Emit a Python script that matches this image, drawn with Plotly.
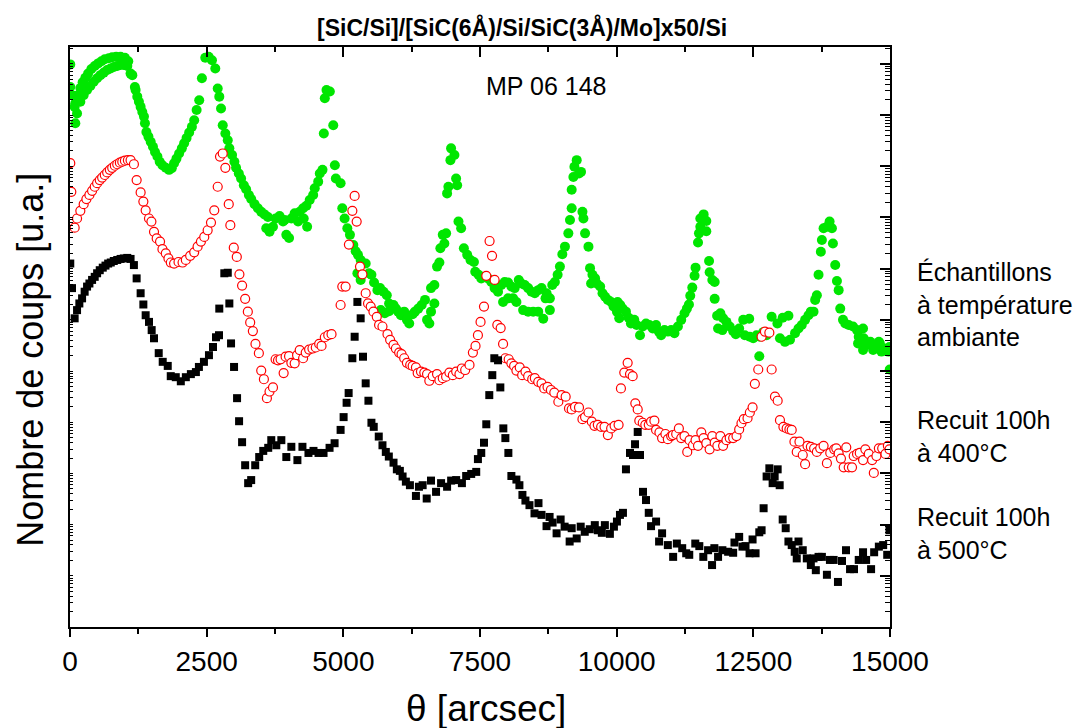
import plotly.graph_objects as go

# ---------------- data (theta in arcsec, log10 of counts, arbitrary units) ----------------
black_theta = [5, 37, 85, 129, 171, 221, 268, 312, 355, 404, 452, 496, 544, 599, 649, 698, 746, 801, 864, 925,
               985, 1048, 1108, 1169, 1219, 1292, 1342, 1384, 1445, 1494, 1537, 1623, 1696, 1788, 1843, 1935, 2027,
               2119, 2211, 2303, 2358, 2450, 2542, 2616, 2671, 2726, 2731, 2823, 2886, 2915, 2946, 3001, 3056, 3093,
               3148, 3204, 3259, 3314, 3388, 3461, 3535, 3626, 3682, 3774, 3866, 3957, 4049, 4160, 4252, 4362, 4454,
               4546, 4638, 4748, 4840, 4950, 5005, 5060, 5097, 5165, 5207, 5257, 5317, 5360, 5409, 5459, 5514, 5556,
               5648, 5716, 5777, 5832, 5918, 5979, 6034, 6084, 6144, 6218, 6328, 6383, 6451, 6525, 6604, 6696, 6788,
               6898, 6972, 7064, 7169, 7247, 7339, 7431, 7462, 7523, 7573, 7615, 7670, 7725, 7762, 7830, 7872, 7927,
               7964, 8019, 8074, 8166, 8221, 8276, 8331, 8405, 8497, 8570, 8625, 8717, 8773, 8828, 8901, 8975, 9048,
               9140, 9177, 9269, 9342, 9416, 9508, 9600, 9655, 9729, 9784, 9876, 9950, 10005, 10060, 10115, 10170,
               10244, 10299, 10336, 10385, 10427, 10482, 10537, 10587, 10629, 10721, 10776, 10831, 10936, 11033,
               11101, 11199, 11272, 11328, 11438, 11512, 11585, 11672, 11745, 11787, 11855, 11934, 12039, 12131,
               12155, 12241, 12302, 12357, 12431, 12486, 12541, 12609, 12651, 12688, 12743, 12793, 12853, 12890,
               12945, 12982, 13037, 13092, 13142, 13202, 13257, 13294, 13326, 13404, 13478, 13552, 13601, 13643,
               13693, 13754, 13846, 13901, 13969, 14048, 14122, 14195, 14269, 14342, 14428, 14507, 14563, 14654,
               14710, 14796, 14875, 14949, 14990]
black_log = [7.10, 6.62, 6.03, 6.19, 6.32, 6.42, 6.55, 6.65, 6.71, 6.78, 6.84, 6.91, 6.97, 7.02, 7.06, 7.10, 7.12,
             7.15, 7.17, 7.19, 7.20, 7.21, 7.19, 7.07, 6.81, 6.52, 6.30, 6.09, 5.96, 5.80, 5.64, 5.35, 5.18, 5.10,
             4.90, 4.88, 4.80, 4.88, 4.94, 4.98, 5.08, 5.18, 5.31, 5.47, 5.66, 5.70, 6.22, 6.91, 6.92, 6.32, 5.54,
             5.08, 4.47, 4.02, 3.61, 3.16, 2.81, 2.87, 3.16, 3.32, 3.44, 3.50, 3.65, 3.55, 3.65, 3.32, 3.52, 3.26,
             3.52, 3.40, 3.44, 3.40, 3.40, 3.50, 3.59, 3.85, 4.10, 4.38, 4.57, 5.25, 5.67, 6.35, 6.03, 5.28, 4.76,
             4.42, 3.99, 3.91, 3.72, 3.55, 3.42, 3.33, 3.21, 3.08, 3.05, 2.94, 2.84, 2.77, 2.56, 2.74, 2.77, 2.51,
             2.86, 2.64, 2.81, 2.74, 2.86, 2.87, 2.81, 2.95, 2.99, 3.03, 3.28, 3.40, 3.60, 3.96, 4.53, 4.92, 5.25,
             5.21, 4.68, 3.88, 3.69, 3.40, 2.95, 2.88, 2.77, 2.58, 2.47, 2.38, 2.22, 2.42, 2.19, 1.97, 2.15, 2.04,
             1.83, 2.10, 1.96, 1.67, 1.93, 1.73, 1.96, 1.86, 1.91, 1.99, 1.89, 1.84, 1.99, 1.82, 1.96, 2.06, 2.19,
             2.23, 3.08, 3.40, 3.36, 3.57, 3.81, 3.36, 2.64, 2.48, 2.23, 1.97, 2.06, 1.67, 1.83, 1.60, 1.37, 1.63,
             1.54, 1.44, 1.41, 1.63, 1.58, 1.37, 1.50, 1.21, 1.54, 1.37, 1.50, 1.47, 1.45, 1.65, 1.76, 1.57, 1.58,
             1.44, 1.71, 1.44, 1.85, 1.89, 2.32, 2.94, 3.10, 2.81, 2.94, 3.08, 2.77, 2.10, 1.93, 1.67, 1.60, 1.47,
             1.34, 1.67, 1.50, 1.34, 1.21, 1.34, 1.11, 1.37, 1.37, 1.02, 1.31, 1.31, 0.88, 1.29, 1.50, 1.13, 1.13,
             1.31, 1.46, 1.31, 1.13, 1.46, 1.57, 1.60, 1.41, 1.89]

red_theta = [5, 24, 85, 129, 189, 250, 300, 355, 404, 452, 496, 544, 588, 636, 680, 728, 772, 820, 864, 912, 956,
             1004, 1059, 1108, 1169, 1219, 1292, 1342, 1384, 1445, 1489, 1537, 1586, 1647, 1691, 1752, 1801, 1844,
             1904, 1985, 2059, 2119, 2198, 2272, 2334, 2395, 2456, 2518, 2579, 2639, 2702, 2744, 2794, 2842, 2904,
             2933, 2996, 3051, 3099, 3148, 3204, 3253, 3296, 3345, 3393, 3455, 3498, 3547, 3602, 3650, 3713, 3761,
             3805, 3852, 3908, 3944, 4007, 4049, 4110, 4154, 4202, 4264, 4312, 4374, 4435, 4496, 4558, 4601, 4661,
             4724, 4784, 4950, 4981, 5042, 5102, 5165, 5207, 5244, 5305, 5349, 5409, 5452, 5501, 5551, 5612, 5654,
             5716, 5808, 5856, 5918, 5961, 6021, 6065, 6113, 6163, 6223, 6268, 6328, 6360, 6420, 6481, 6531, 6573,
             6635, 6714, 6757, 6819, 6880, 6940, 7003, 7064, 7124, 7168, 7229, 7308, 7370, 7418, 7462, 7510, 7573,
             7615, 7675, 7720, 7767, 7817, 7878, 7922, 7964, 8025, 8074, 8124, 8166, 8227, 8271, 8332, 8381, 8455,
             8503, 8565, 8626, 8675, 8736, 8797, 8859, 8933, 8993, 9067, 9128, 9177, 9238, 9311, 9374, 9422, 9484,
             9545, 9594, 9655, 9716, 9778, 9839, 9899, 9962, 10035, 10078, 10139, 10201, 10244, 10293, 10341, 10385,
             10414, 10477, 10524, 10587, 10629, 10690, 10721, 10782, 10831, 10892, 10936, 10997, 11028, 11089,
             11138, 11181, 11241, 11291, 11333, 11396, 11443, 11488, 11548, 11590, 11640, 11701, 11750, 11793,
             11842, 11897, 11947, 12008, 12068, 12131, 12192, 12241, 12283, 12326, 12394, 12436, 12486, 12528,
             12590, 12651, 12712, 12793, 12835, 12896, 12945, 12987, 13050, 13110, 13160, 13202, 13252, 13294,
             13344, 13404, 13447, 13491, 13552, 13612, 13662, 13723, 13785, 13846, 13907, 13980, 14017, 14061,
             14103, 14153, 14200, 14245, 14305, 14336, 14397, 14447, 14507, 14549, 14612, 14673, 14704, 14752,
             14796, 14857, 14917, 14961, 14990]
red_log = [9.06, 8.50, 7.80, 7.98, 8.13, 8.26, 8.36, 8.44, 8.52, 8.60, 8.67, 8.73, 8.78, 8.83, 8.88, 8.93, 8.97,
           9.01, 9.04, 9.07, 9.09, 9.11, 9.12, 9.12, 9.04, 8.73, 8.49, 8.31, 8.14, 7.98, 7.92, 7.72, 7.59, 7.53,
           7.38, 7.30, 7.20, 7.12, 7.10, 7.13, 7.12, 7.17, 7.25, 7.32, 7.43, 7.53, 7.62, 7.75, 7.90, 8.14, 8.60,
           9.19, 9.25, 8.97, 8.26, 7.85, 7.41, 7.23, 6.89, 6.67, 6.41, 6.16, 5.95, 5.78, 5.53, 5.35, 5.01, 4.84,
           4.47, 4.60, 4.68, 5.23, 5.21, 5.23, 4.96, 5.28, 5.29, 5.16, 5.15, 5.31, 5.41, 5.25, 5.36, 5.42, 5.44,
           5.46, 5.53, 5.49, 5.66, 5.70, 5.72, 6.29, 6.65, 6.65, 7.47, 8.13, 8.42, 7.92, 7.04, 6.89, 6.52, 6.32,
           6.26, 6.16, 6.06, 5.90, 5.87, 5.72, 5.61, 5.51, 5.44, 5.36, 5.33, 5.25, 5.16, 5.12, 5.10, 5.07, 4.96,
           4.99, 4.97, 4.94, 4.81, 4.90, 4.94, 4.82, 4.86, 4.89, 4.97, 4.92, 4.99, 4.94, 5.05, 5.02, 5.12, 5.36,
           5.49, 5.70, 5.96, 6.26, 6.86, 7.54, 7.25, 6.78, 5.90, 5.84, 5.53, 5.25, 5.23, 5.15, 5.10, 5.01, 5.07,
           4.92, 4.99, 4.90, 4.84, 4.86, 4.79, 4.76, 4.66, 4.69, 4.63, 4.58, 4.40, 4.53, 4.50, 4.27, 4.25, 4.30,
           4.29, 4.06, 4.10, 4.19, 4.01, 3.93, 3.95, 3.91, 3.91, 3.75, 3.88, 3.93, 3.95, 4.66, 4.97, 5.16, 4.94,
           4.90, 4.37, 4.25, 4.03, 3.99, 3.95, 3.95, 4.01, 4.03, 3.85, 3.80, 3.69, 3.77, 3.67, 3.73, 3.75, 3.77,
           3.88, 3.69, 3.73, 3.42, 3.65, 3.55, 3.65, 3.54, 3.80, 3.69, 3.59, 3.47, 3.73, 3.60, 3.54, 3.73, 3.54,
           3.65, 3.69, 3.69, 3.73, 3.86, 3.98, 4.06, 4.08, 4.19, 4.29, 4.75, 5.03, 5.67, 5.77, 5.75, 5.03, 4.50,
           4.42, 4.04, 3.91, 3.88, 3.86, 3.85, 3.62, 3.42, 3.62, 3.36, 3.18, 3.54, 3.52, 3.49, 3.42, 3.49, 3.54,
           3.20, 3.40, 3.47, 3.49, 3.39, 3.29, 3.12, 3.51, 3.12, 3.12, 3.34, 3.38, 3.40, 3.26, 3.47, 3.38, 3.26,
           3.01, 3.34, 3.49, 3.49, 3.38, 3.54, 3.47]

green_theta = [5, 5, 24, 66, 97, 85, 129, 97, 158, 189, 232, 281, 331, 391, 452, 515, 575, 636, 709, 772, 845,
               925, 1004, 1066, 189, 250, 312, 373, 434, 496, 557, 618, 680, 741, 801, 864, 925, 985, 1048, 1108,
               1140, 1187, 1200, 1231, 1261, 1292, 1323, 1353, 1371, 1397, 1434, 1476, 1518, 1555, 1599, 1641, 1691,
               1752, 1812, 1862, 1904, 1948, 1996, 2046, 2088, 2132, 2180, 2230, 2272, 2316, 2364, 2413, 2474, 2536,
               2597, 2658, 2702, 2731, 2763, 2794, 2842, 2886, 2915, 2965, 3007, 3038, 3088, 3130, 3180, 3222, 3272,
               3314, 3375, 3437, 3498, 3558, 3621, 3590, 3650, 3713, 3761, 3834, 3897, 3957, 4007, 3926, 4049, 4110,
               4172, 4202, 4264, 4325, 4275, 4338, 4385, 4448, 4477, 4540, 4569, 4619, 4643, 4661, 4692, 4753, 4816,
               4845, 4863, 4950, 4981, 5023, 5073, 5121, 5183, 5226, 5268, 5317, 5257, 5317, 5409, 5470, 5514, 5562,
               5624, 5672, 5735, 5795, 5837, 5685, 5759, 5837, 5918, 5961, 6003, 6053, 6113, 6163, 6205, 6268, 6310,
               6371, 6433, 6494, 6531, 6573, 6604, 6665, 6604, 6665, 6714, 6757, 6775, 6819, 6848, 6880, 6898, 6922,
               6959, 6971, 7032, 7063, 7082, 7106, 7155, 7205, 7266, 7326, 7389, 7413, 7473, 7523, 7584, 7646, 7707,
               7767, 7830, 7890, 7951, 8014, 8074, 8135, 8209, 8258, 8319, 8381, 8442, 8503, 8565, 8626, 7922, 8014,
               8106, 8166, 8289, 8381, 8473, 8565, 8657, 8699, 8778, 8718, 8778, 8822, 8870, 8920, 8962, 9006, 9054,
               9116, 9146, 9177, 9177, 9208, 9227, 9269, 9311, 9348, 9374, 9392, 9422, 9484, 9513, 9557, 9605, 9532,
               9637, 9698, 9741, 9789, 9839, 9899, 9943, 10005, 10047, 10065, 10017, 10109, 10170, 10219, 10261,
               10322, 10366, 10427, 10477, 10537, 10598, 10660, 10721, 10771, 10813, 10874, 10936, 10997, 11057,
               11120, 11181, 11241, 11285, 11322, 11346, 11383, 11425, 11443, 11488, 11506, 11530, 11530, 11591,
               11640, 11640, 11690, 11701, 11750, 11793, 11793, 11837, 11897, 11947, 11855, 11934, 12008, 12068,
               12131, 12179, 12241, 12315, 12425, 12344, 12436, 12498, 12559, 12620, 12609, 12682, 12743, 12835,
               12940, 13037, 13142, 12987, 13079, 13171, 13263, 13326, 13386, 13447, 13509, 13552, 13601, 13631,
               13662, 13693, 13735, 13754, 13785, 13846, 13895, 13938, 13956, 13998, 14029, 14061, 14090, 14140,
               14182, 14245, 14324, 14397, 14507, 14428, 14519, 14641, 14796, 14416, 14507, 14568, 14630, 14691,
               14752, 14814, 14844, 14906, 14967, 14990, 14995]
green_log = [10.99, 10.55, 10.39, 10.38, 10.23, 10.16, 10.03, 9.84, 10.39, 10.53, 10.64, 10.73, 10.81, 10.90,
             10.96, 11.01, 11.05, 11.09, 11.11, 11.13, 11.14, 11.14, 11.12, 11.05, 10.26, 10.39, 10.49, 10.57,
             10.65, 10.72, 10.78, 10.83, 10.88, 10.91, 10.94, 10.96, 10.98, 10.98, 10.96, 10.81, 10.78, 10.55,
             10.49, 10.36, 10.26, 10.16, 10.06, 9.97, 9.84, 9.67, 9.58, 9.48, 9.38, 9.28, 9.19, 9.09, 9.02, 8.97,
             8.93, 8.96, 9.06, 9.15, 9.25, 9.35, 9.45, 9.55, 9.66, 9.77, 9.90, 10.10, 10.29, 10.72, 11.12, 11.14,
             11.07, 10.91, 10.52, 10.36, 10.13, 9.80, 9.64, 9.51, 9.35, 9.22, 9.09, 8.97, 8.86, 8.76, 8.63, 8.55,
             8.44, 8.36, 8.26, 8.18, 8.11, 8.06, 8.01, 7.79, 7.72, 7.82, 7.98, 8.03, 7.92, 7.66, 7.60, 7.95, 7.98,
             8.08, 7.92, 8.11, 8.18, 8.23, 7.98, 7.82, 8.34, 8.44, 8.57, 8.70, 8.86, 8.93, 9.64, 10.33, 10.49,
             10.46, 9.80, 9.02, 8.76, 8.67, 8.18, 7.98, 7.79, 7.66, 7.46, 7.34, 7.27, 7.17, 6.91, 6.78, 7.10, 6.91,
             6.88, 6.73, 6.58, 6.62, 6.55, 6.48, 6.32, 6.19, 6.13, 6.17, 6.29, 6.22, 6.16, 6.09, 6.16, 6.00, 5.93,
             6.11, 6.16, 6.22, 6.29, 6.39, 6.00, 5.93, 6.16, 6.32, 6.62, 6.68, 7.04, 7.12, 7.40, 7.66, 7.49, 7.69,
             8.47, 8.60, 9.12, 9.35, 9.22, 8.76, 8.63, 7.92, 7.79, 7.40, 7.27, 7.17, 7.13, 6.94, 6.88, 6.81, 6.84,
             6.81, 6.74, 6.62, 6.55, 6.68, 6.74, 6.73, 6.65, 6.62, 6.78, 6.71, 6.68, 6.62, 6.55, 6.52, 6.58, 6.62,
             6.35, 6.42, 6.42, 6.35, 6.19, 6.16, 6.16, 6.16, 6.02, 6.42, 6.19, 6.52, 6.42, 6.68, 6.74, 6.88, 7.04,
             7.28, 7.43, 7.69, 7.95, 8.18, 8.54, 8.79, 8.99, 9.12, 8.86, 8.89, 8.11, 7.98, 7.69, 7.43, 7.01, 6.88,
             6.81, 6.71, 6.71, 6.65, 6.52, 6.45, 6.39, 6.35, 6.26, 6.16, 6.03, 6.29, 6.35, 6.22, 6.16, 6.04, 5.93,
             6.00, 5.90, 5.70, 5.87, 5.93, 5.90, 5.83, 5.90, 5.77, 5.70, 5.80, 5.77, 5.80, 5.74, 5.87, 6.00, 6.13,
             6.22, 6.30, 6.47, 6.63, 6.86, 7.02, 7.51, 7.69, 7.82, 7.98, 8.06, 7.93, 7.73, 7.15, 6.93, 6.78, 6.74,
             6.41, 6.08, 6.13, 6.03, 5.83, 5.80, 5.96, 5.87, 5.78, 5.72, 5.83, 6.00, 6.02, 5.70, 5.67, 5.64, 5.70,
             5.67, 5.29, 5.76, 5.70, 6.06, 5.93, 6.04, 6.08, 5.64, 5.57, 5.61, 5.74, 5.83, 5.90, 6.00, 6.09, 6.16,
             6.16, 6.39, 6.48, 6.88, 7.33, 7.56, 7.79, 7.82, 7.92, 7.79, 7.49, 7.07, 6.76, 6.58, 6.22, 6.00, 5.93,
             5.90, 5.87, 5.80, 5.83, 5.67, 5.64, 5.57, 5.57, 5.54, 5.41, 5.51, 5.54, 5.41, 5.47, 5.54, 5.38, 5.44,
             5.38, 5.47, 5.03]

x_tick_values = [0, 2500, 5000, 7500, 10000, 12500, 15000]
x_tick_labels = ["0", "2500", "5000", "7500", "10000", "12500", "15000"]

title_text = "[SiC/Si]/[SiC(6Å)/Si/SiC(3Å)/Mo]x50/Si"
sample_text = "MP 06 148"
series_labels = ["Échantillons<br>à température<br>ambiante", "Recuit 100h<br>à 400°C", "Recuit 100h<br>à 500°C"]

FONT = "Arial, Liberation Sans, sans-serif"
Y_RANGE = [0, 11.33]
X_RANGE = [0, 15000]

# tick positions of the log axis (decades and the 2..9 sub-divisions)
decades = [10 ** k for k in range(0, 12)]
sub_ticks = [d * m for d in decades for m in range(2, 10)]

fig = go.Figure()

fig.add_trace(go.Scatter(
    x=green_theta, y=[10 ** v for v in green_log], mode="markers",
    marker=dict(symbol="circle", size=10, color="#00e600", line=dict(width=0)),
    showlegend=False, hoverinfo="skip"))
fig.add_trace(go.Scatter(
    x=red_theta, y=[10 ** v for v in red_log], mode="markers",
    marker=dict(symbol="circle", size=9, color="white", line=dict(width=1.2, color="#ff0000")),
    showlegend=False, hoverinfo="skip"))
fig.add_trace(go.Scatter(
    x=black_theta, y=[10 ** v for v in black_log], mode="markers",
    marker=dict(symbol="square", size=8, color="#000000", line=dict(width=0)),
    showlegend=False, hoverinfo="skip"))
# dummy traces to activate the mirrored (top/right) tick axes
fig.add_trace(go.Scatter(x=[None], y=[None], xaxis="x2", yaxis="y2", showlegend=False, hoverinfo="skip"))
fig.add_trace(go.Scatter(x=[None], y=[None], xaxis="x2", yaxis="y3", showlegend=False, hoverinfo="skip"))

fig.update_layout(
    width=1076, height=728,
    margin=dict(l=70, r=186, t=47, b=101),
    paper_bgcolor="white", plot_bgcolor="white",
    font=dict(family=FONT, color="black"),
    xaxis=dict(range=X_RANGE, tickvals=x_tick_values, ticktext=x_tick_labels,
               ticks="outside", ticklen=8, tickwidth=1.5, tickcolor="black",
               minor=dict(ticks="outside", dtick=1250, tick0=0, ticklen=5, tickwidth=1.5, tickcolor="black"),
               showline=True, linewidth=2, linecolor="black", mirror=True,
               showgrid=False, zeroline=False, tickfont=dict(size=28, family=FONT)),
    xaxis2=dict(range=X_RANGE, overlaying="x", side="top", anchor="y2",
                tickvals=x_tick_values, showticklabels=False,
                ticks="inside", ticklen=10, tickwidth=1.5, tickcolor="black",
                minor=dict(ticks="inside", dtick=1250, tick0=0, ticklen=5, tickwidth=1.5, tickcolor="black"),
                showline=False, showgrid=False, zeroline=False),
    yaxis=dict(type="log", range=Y_RANGE, tickvals=decades + sub_ticks, showticklabels=False,
               ticks="inside", ticklen=3, tickwidth=1, tickcolor="black",
               showline=True, linewidth=2, linecolor="black", mirror=True,
               showgrid=False, zeroline=False),
    yaxis2=dict(type="log", range=Y_RANGE, tickvals=decades, overlaying="y", side="right", anchor="x2",
                showticklabels=False, ticks="inside", ticklen=10, tickwidth=1.5, tickcolor="black",
                showline=False, showgrid=False, zeroline=False),
    yaxis3=dict(type="log", range=Y_RANGE, tickvals=sub_ticks, overlaying="y", side="right", anchor="x2",
                showticklabels=False, ticks="inside", ticklen=5, tickwidth=1, tickcolor="black",
                showline=False, showgrid=False, zeroline=False),
)

annotations = [
    dict(text="<b>" + title_text + "</b>", x=0.551, y=1.033, xref="paper", yref="paper",
         xanchor="center", yanchor="middle", showarrow=False, font=dict(size=23, family=FONT)),
    dict(text=sample_text, x=0.580, y=0.933, xref="paper", yref="paper",
         xanchor="center", yanchor="middle", showarrow=False, font=dict(size=25, family=FONT)),
    dict(text="Nombre de coups [u.a.]", x=-0.048, y=0.46, xref="paper", yref="paper", textangle=-90,
         xanchor="center", yanchor="middle", showarrow=False, font=dict(size=36, family=FONT)),
    dict(text="θ [arcsec]", x=0.507, y=-0.140, xref="paper", yref="paper",
         xanchor="center", yanchor="middle", showarrow=False, font=dict(size=37, family=FONT)),
]
label_y = [0.556, 0.329, 0.162]
for txt, yy in zip(series_labels, label_y):
    annotations.append(dict(text=txt, x=1.0305, y=yy, xref="paper", yref="paper", align="left",
                            xanchor="left", yanchor="middle", showarrow=False,
                            font=dict(size=25, family=FONT)))
fig.update_layout(annotations=annotations)

fig.write_html("out.html", config={"displayModeBar": False},
               post_script="document.body.style.margin='0px';")
